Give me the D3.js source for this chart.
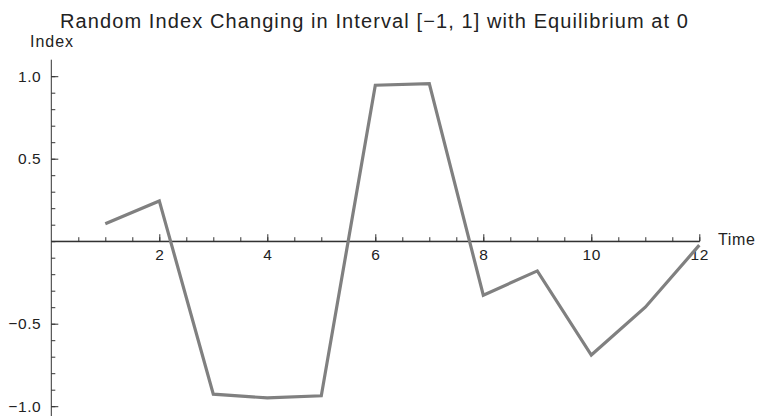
<!DOCTYPE html>
<html>
<head>
<meta charset="utf-8">
<script src="https://cdn.jsdelivr.net/npm/d3@7"></script>
<style>
    body { margin: 0; background: #fff; }
    text { font-family: Arial, "Liberation Sans", sans-serif; fill: #222; }
    .tick text { font-size: 15.5px; letter-spacing: 0.6px; }
</style>
</head>
<body>
<svg id="drawing_region"></svg>
<script>
const times = [1, 2, 3, 4, 5, 6, 7, 8, 9, 10, 11, 12];
const index_values = [0.106, 0.244, -0.927, -0.95, -0.937, 0.945, 0.955, -0.327, -0.18, -0.69, -0.40, -0.024];
const x_ticks = [2, 4, 6, 8, 10, 12];
const y_ticks = [-1.0, -0.5, 0.5, 1.0];
const title_text = "Random Index Changing in Interval [\u22121, 1] with Equilibrium at 0";

class LineChart {

    constructor( config, data ) {
        this.config = config;
        this.data = data;
        this.init();
    }

    init() {
        let self = this;

        self.svg = d3.select( self.config.parent )
            .attr('width', self.config.width)
            .attr('height', self.config.height);

        // origin sits at the crossing of the two axes
        self.xscale = d3.scaleLinear()
            .domain([0, 12])
            .range([51.3, 699.3]);

        self.yscale = d3.scaleLinear()
            .domain([-1, 1])
            .range([406.2, 76.2]);

        self.line = d3.line()
            .x( d => self.xscale(d.x) )
            .y( d => self.yscale(d.y) );
    }

    render() {
        let self = this;
        const x0 = self.xscale(0), y0 = self.yscale(0);
        const fmt = d => d.toFixed(1).replace('-', '\u2212');

        // x axis: minor ticks every 0.5, major every 2, ticks pointing up
        self.svg.append('g')
            .attr('transform', `translate(0, ${y0})`)
            .call( d3.axisBottom(self.xscale)
                .tickValues( d3.range(0.5, 12.01, 0.5) )
                .tickSizeInner(-4).tickSizeOuter(0)
                .tickFormat('') )
            .call( g => g.select('.domain').remove() );

        self.svg.append('g')
            .attr('class', 'xaxis')
            .attr('transform', `translate(0, ${y0})`)
            .call( d3.axisBottom(self.xscale)
                .tickValues(x_ticks)
                .tickSizeInner(-7).tickSizeOuter(0)
                .tickPadding(8) );

        // y axis: minor ticks every 0.1, major every 0.5, ticks pointing right
        self.svg.append('g')
            .attr('transform', `translate(${x0}, 0)`)
            .call( d3.axisLeft(self.yscale)
                .tickValues( d3.range(-10, 11).map(d => d / 10) )
                .tickSizeInner(-4).tickSizeOuter(0)
                .tickFormat('') )
            .call( g => g.select('.domain').remove() );

        self.svg.append('g')
            .attr('class', 'yaxis')
            .attr('transform', `translate(${x0}, 0)`)
            .call( d3.axisLeft(self.yscale)
                .tickValues(y_ticks)
                .tickSizeInner(-7).tickSizeOuter(0)
                .tickPadding(10)
                .tickFormat(fmt) )
            .call( g => g.select('.domain').remove() );

        // axis lines
        self.svg.append('line')
            .attr('x1', x0).attr('x2', x0)
            .attr('y1', self.yscale(1.1)).attr('y2', self.yscale(-1.08))
            .attr('stroke', '#333');
        self.svg.append('line')
            .attr('x1', x0).attr('x2', self.xscale(12))
            .attr('y1', y0).attr('y2', y0)
            .attr('stroke', '#333');

        self.svg.selectAll('.tick line').attr('stroke', '#333');
        self.svg.selectAll('.tick text').attr('fill', '#222');

        self.svg.append('path')
            .attr('d', self.line(self.data))
            .attr('stroke', '#808080')
            .attr('stroke-width', 3.2)
            .attr('stroke-linejoin', 'miter')
            .attr('fill', 'none');

        self.svg.append('text')
            .attr('x', 60).attr('y', 28)
            .attr('font-size', 20)
            .attr('textLength', 628)
            .attr('lengthAdjust', 'spacing')
            .text(title_text);

        self.svg.append('text')
            .attr('x', 30).attr('y', 47)
            .attr('font-size', 16)
            .attr('textLength', 43)
            .attr('lengthAdjust', 'spacing')
            .text('Index');

        self.svg.append('text')
            .attr('x', 718).attr('y', 245)
            .attr('font-size', 16)
            .attr('textLength', 37)
            .attr('lengthAdjust', 'spacing')
            .text('Time');
    }
}

const data = times.map( (t, i) => ({ x: t, y: index_values[i] }) );
const chart = new LineChart( { parent: '#drawing_region', width: 758, height: 416 }, data );
chart.render();
</script>
</body>
</html>
